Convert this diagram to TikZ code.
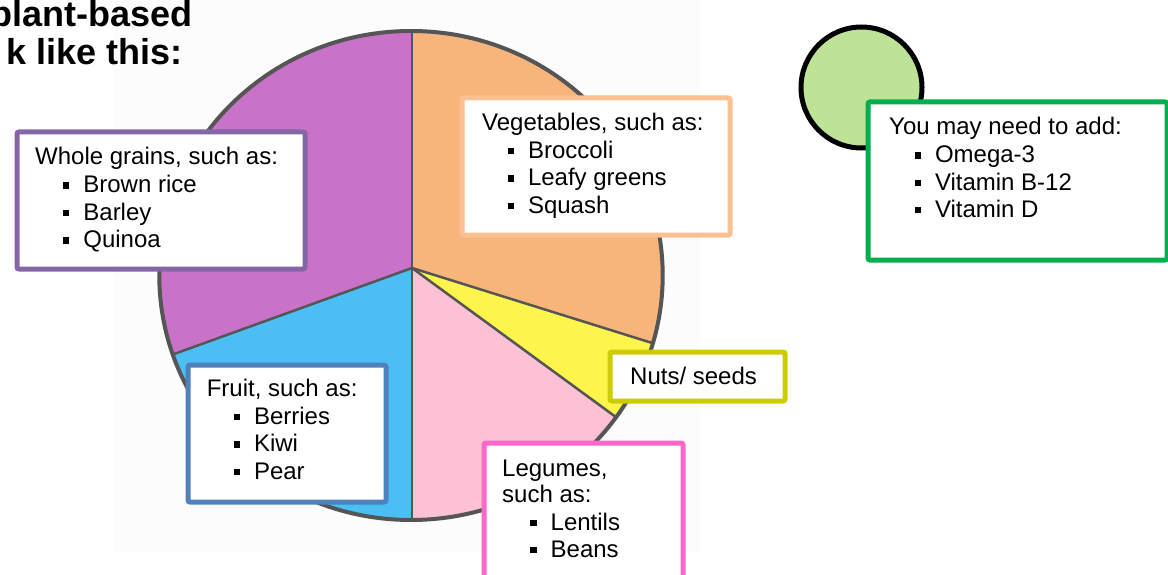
\documentclass[tikz,border=0pt]{standalone}
\usepackage{fontspec}
\setmainfont{Liberation Sans}
\definecolor{bgoff}{HTML}{FCFCFC}
\definecolor{cpurple}{HTML}{C973C8}
\definecolor{corange}{HTML}{F7B57C}
\definecolor{cyellow}{HTML}{FEF54C}
\definecolor{cpink}{HTML}{FDC1D5}
\definecolor{cblue}{HTML}{4BBFF4}
\definecolor{pieline}{HTML}{555555}
\definecolor{bgrains}{HTML}{8466A6}
\definecolor{bveg}{HTML}{FAC090}
\definecolor{bnuts}{HTML}{CCCC00}
\definecolor{bfruit}{HTML}{4F81BD}
\definecolor{bleg}{HTML}{FF66CC}
\definecolor{bgreen}{HTML}{00B050}
\definecolor{cgreenfill}{HTML}{BFE396}
\newcommand\bul{\rule[4pt]{6.5pt}{6.5pt}\hspace{14pt}}
\begin{document}
\begin{tikzpicture}[x=1pt,y=-1pt,
  txt/.style={anchor=base west,inner sep=0pt,font=\fontsize{24}{28}\selectfont},
  ttl/.style={anchor=base east,inner sep=0pt,font=\bfseries\fontsize{36}{40}\selectfont},
  box/.style={draw,line width=5pt,fill=white,rounded corners=2pt,inner sep=0pt,anchor=north west},
  spoke/.style={draw=pieline,line width=2.5pt},
]
\useasboundingbox (0,0) rectangle (1168,575);
\fill[bgoff] (115,0) rectangle (700,552);
% title
\node[ttl] (t1) at (192.5,26.7) {plant-based};
\node[ttl] (t2) at (183,64.3) {k like this:};
% pie
\coordinate (c) at (412,268);
\coordinate (ptop) at (412,31);
\coordinate (pro) at (652.8,343.2);
\coordinate (pry) at (616.1,417.2);
\coordinate (pbot) at (412,520);
\coordinate (plb) at (173,354.4);
\begin{scope}
\clip (411,275.5) ellipse [x radius=251.7, y radius=244.5];
\fill[cpurple] (c) -- (412,-50) -- (-100,-50) -- (-66,440.8) -- cycle;
\fill[corange] (c) -- (412,-50) -- (900,-50) -- (893.6,418.4) -- cycle;
\fill[cyellow] (c) -- (893.6,418.4) -- (820.2,566.4) -- cycle;
\fill[cpink] (c) -- (820.2,566.4) -- (820,700) -- (412,700) -- cycle;
\fill[cblue] (c) -- (412,700) -- (-100,700) -- (-66,440.8) -- cycle;
\end{scope}
\draw[spoke] (c) -- (ptop);
\draw[spoke] (c) -- (pro);
\draw[spoke] (c) -- (pry);
\draw[spoke] (c) -- (pbot);
\draw[spoke] (c) -- (plb);
\draw[pieline,line width=4pt] (411,275.5) ellipse [x radius=251.7, y radius=244.5];
% boxes
\node[box,draw=bgrains,minimum width=288pt,minimum height=137pt] (grains) at (14.5,129.5) {};
\node[box,draw=bveg,minimum width=268pt,minimum height=137pt] (veg) at (459.5,95.5) {};
\node[box,draw=bnuts,minimum width=175pt,minimum height=49pt] (nuts) at (607.5,349.5) {};
\node[box,draw=bfruit,minimum width=198pt,minimum height=137pt] (fruit) at (185.5,362.5) {};
\node[box,draw=bleg,minimum width=199pt,minimum height=159.5pt] (leg) at (481.5,440.5) {};
\node[circle,draw=black,line width=5pt,fill=cgreenfill,minimum size=121pt,inner sep=0pt] (supp) at (861.5,87.5) {};
\node[box,draw=bgreen,minimum width=299pt,minimum height=158pt] (green) at (865.5,99.5) {};
% texts
\node[txt] (grainsH) at (35,165) {Whole grains, such as:};
\node[txt] (grains1) at (62.7,192.7) {\bul Brown rice};
\node[txt] (grains2) at (62.7,220) {\bul Barley};
\node[txt] (grains3) at (62.7,247.5) {\bul Quinoa};
\node[txt] (vegH) at (482,131) {Vegetables, such as:};
\node[txt] (veg1) at (507.3,158.3) {\bul Broccoli};
\node[txt] (veg2) at (507.3,185.7) {\bul Leafy greens};
\node[txt] (veg3) at (507.3,213.3) {\bul Squash};
\node[txt] (nutsT) at (630,384) {Nuts/ seeds};
\node[txt] (fruitH) at (206.6,396.7) {Fruit, such as:};
\node[txt] (fruit1) at (233.3,424.3) {\bul Berries};
\node[txt] (fruit2) at (233.3,451.7) {\bul Kiwi};
\node[txt] (fruit3) at (233.3,479.3) {\bul Pear};
\node[txt] (legH1) at (502,476) {Legumes,};
\node[txt] (legH2) at (502,502.7) {such as:};
\node[txt] (leg1) at (530,530) {\bul Lentils};
\node[txt] (leg2) at (530,557.3) {\bul Beans};
\node[txt] (greenH) at (889,135) {You may need to add:};
\node[txt] (green1) at (914.3,162.7) {\bul Omega-3};
\node[txt] (green2) at (914.3,190) {\bul Vitamin B-12};
\node[txt] (green3) at (914.3,217.3) {\bul Vitamin D};
\end{tikzpicture}
\end{document}
